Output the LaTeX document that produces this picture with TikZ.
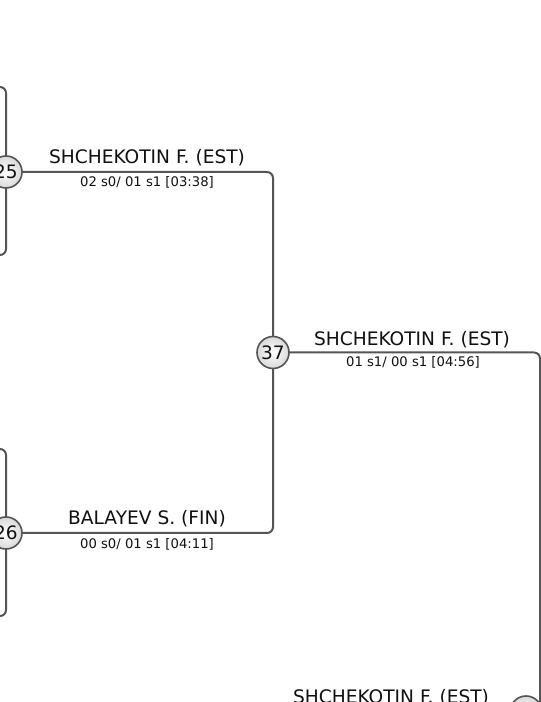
\documentclass[tikz,border=0pt]{standalone}
\usepackage{fontspec}
\setmainfont{DejaVu Sans}
\definecolor{linegray}{HTML}{555555}
\definecolor{textdark}{HTML}{111111}
\tikzset{
  conn/.style={draw=linegray, line width=2pt, rounded corners=6pt},
  seed/.style={circle, draw=linegray, line width=1.6pt, inner color=white, outer color=black!15,
    minimum size=32pt, inner sep=0pt, text=textdark, font=\fontsize{18.5pt}{20pt}\selectfont},
  title/.style={anchor=base, inner sep=0pt, text=textdark, font=\fontsize{18.6pt}{21pt}\selectfont},
  score/.style={anchor=base, inner sep=0pt, text=textdark, font=\fontsize{13.2pt}{15pt}\selectfont}
}
\begin{document}
\begin{tikzpicture}[x=1pt,y=1pt]
\useasboundingbox (0,0) rectangle (541,702);
\clip (0,0) rectangle (541,702);
\fill[white] (0,0) rectangle (541,702);
% coordinates
\coordinate (lt1) at (-10,615);
\coordinate (lb1) at (-10,447);
\coordinate (lt2) at (-10,253);
\coordinate (lb2) at (-10,86);
\coordinate (r1) at (540,-30);
% circle positions
\coordinate (p25) at (6,530);
\coordinate (p26) at (6,169);
\coordinate (p37) at (273,349.5);
\coordinate (pB) at (526,-10);
% connectors
\draw[conn] (lt1) -| (p25);
\draw[conn] (p25) |- (lb1);
\draw[conn] (lt2) -| (p26);
\draw[conn] (p26) |- (lb2);
\draw[conn] (p25) -| (p37);
\draw[conn] (p26) -| (p37);
\draw[conn] (p37) -| (r1);
% circles
\node[seed] (c25) at (p25) {25};
\node[seed] (c26) at (p26) {26};
\node[seed] (c37) at (p37) {37};
\node[seed] (cB) at (pB) {};
% labels
\node[title] (t25) at (147,538) {SHCHEKOTIN F. (EST)};
\node[score] (s25) at (147,515.3) {02 s0/ 01 s1 [03:38]};
\node[title] (t26) at (147,177) {BALAYEV S. (FIN)};
\node[score] (s26) at (147,153) {00 s0/ 01 s1 [04:11]};
\node[title] (t37) at (412,356) {SHCHEKOTIN F. (EST)};
\node[score] (s37) at (413,335.3) {01 s1/ 00 s1 [04:56]};
\node[title] (tB) at (391,-1.5) {SHCHEKOTIN F. (EST)};
\end{tikzpicture}
\end{document}
